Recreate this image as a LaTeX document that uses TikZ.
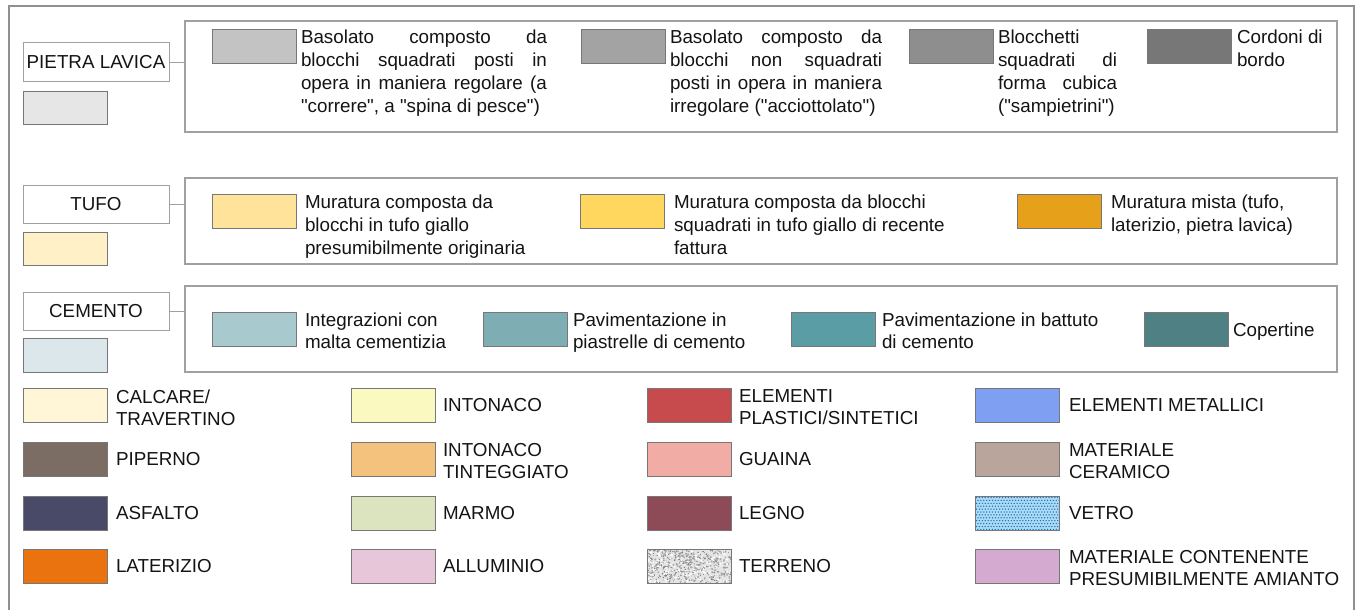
\documentclass[tikz,border=0pt]{standalone}
\usepackage{fontspec}
\setmainfont[Ligatures=TeXOff]{Liberation Sans}
\definecolor{swline}{HTML}{777777}
\definecolor{boxline}{HTML}{A0A0A0}
\definecolor{frameline}{HTML}{909090}
\definecolor{plsw}{HTML}{E6E6E6}
\definecolor{plA}{HTML}{C3C3C3}
\definecolor{plB}{HTML}{A3A3A3}
\definecolor{plC}{HTML}{8E8E8E}
\definecolor{plD}{HTML}{777777}
\definecolor{tusw}{HTML}{FFF0C8}
\definecolor{tuA}{HTML}{FFE39B}
\definecolor{tuB}{HTML}{FFD65E}
\definecolor{tuC}{HTML}{E6A019}
\definecolor{cesw}{HTML}{DCE7EB}
\definecolor{ceA}{HTML}{A8C9CE}
\definecolor{ceB}{HTML}{7EADB3}
\definecolor{ceC}{HTML}{5B9DA4}
\definecolor{ceD}{HTML}{4F8084}
\definecolor{calcare}{HTML}{FFF6D8}
\definecolor{piperno}{HTML}{7B6C64}
\definecolor{asfalto}{HTML}{484A68}
\definecolor{laterizio}{HTML}{EA730F}
\definecolor{intonaco}{HTML}{FAF9BF}
\definecolor{intint}{HTML}{F5C27D}
\definecolor{marmo}{HTML}{DCE3BF}
\definecolor{alluminio}{HTML}{E6C6D8}
\definecolor{plastici}{HTML}{C74A4D}
\definecolor{guaina}{HTML}{F1ACA5}
\definecolor{legno}{HTML}{8C4B56}
\definecolor{metallici}{HTML}{7F9FF3}
\definecolor{ceramico}{HTML}{BAA59C}
\definecolor{vetro}{HTML}{A8DDF7}
\definecolor{vetrodot}{HTML}{2A68B0}
\definecolor{amianto}{HTML}{D4AAD0}
\definecolor{terbg}{HTML}{E4E4E4}
\definecolor{txtc}{HTML}{141414}
\begin{document}
\begin{tikzpicture}[x=1pt,y=-1pt,
  every node/.style={inner sep=0pt, outer sep=0pt},
  txt/.style={font=\fontsize{18.8}{23}\selectfont, align=left, anchor=north west, text=txtc},
  gtxt/.style={font=\fontsize{18.8}{22}\selectfont, align=left, anchor=north west, text=txtc},
  gone/.style={font=\fontsize{18.8}{22}\selectfont, anchor=base west, text=txtc},
  sw/.style={draw=swline, line width=0.8pt, minimum width=84pt, minimum height=34pt, anchor=north west},
  lab/.style={draw=boxline, line width=1pt, minimum width=146pt, minimum height=39pt, anchor=north west, font=\fontsize{18.8}{23}\selectfont, text=txtc, fill=white},
  grp/.style={draw=boxline, line width=1.2pt, fill=white, anchor=north west, minimum width=1152pt},
  conn/.style={draw=boxline, line width=1pt}]
\useasboundingbox (0,0) rectangle (1363,610);
\fill[white] (0,0) rectangle (1363,610);
\draw[frameline, line width=1.5pt] (9,625) -- (9,6) -- (1354,6) -- (1354,625);

% ---------- PIETRA LAVICA ----------
\node[grp, minimum height=111pt] (pg) at (185,21) {};
\node[lab] (pl) at (23,43) {PIETRA LAVICA};
\node[sw, fill=plsw, minimum height=33pt] (plsw) at (23,91) {};
\draw[conn] (pl.east) -- (pl.east -| pg.west);
\node[sw, fill=plA] (p1) at (212,29) {};
\node[txt] (p1t) at (301,29.5) {\makebox[246pt][s]{Basolato composto da}\\\makebox[246pt][s]{blocchi squadrati posti in}\\\makebox[246pt][s]{opera in maniera regolare (a}\\"correre", a "spina di pesce")};
\node[sw, fill=plB] (p2) at (581,29) {};
\node[txt] (p2t) at (670,29.5) {\makebox[212pt][s]{Basolato composto da}\\\makebox[212pt][s]{blocchi non squadrati}\\\makebox[212pt][s]{posti in opera in maniera}\\irregolare ("acciottolato")};
\node[sw, fill=plC] (p3) at (909,29) {};
\node[txt] (p3t) at (998,29.5) {Blocchetti\\\makebox[119pt][s]{squadrati di}\\\makebox[119pt][s]{forma cubica}\\("sampietrini")};
\node[sw, fill=plD] (p4) at (1147,29) {};
\node[txt] (p4t) at (1237,29.5) {Cordoni di\\bordo};

% ---------- TUFO ----------
\node[grp, minimum height=86pt] (tg) at (185,178) {};
\node[lab, minimum height=38pt] (tl) at (23,185) {TUFO};
\node[sw, fill=tusw, minimum height=33pt] (tlsw) at (23,232) {};
\draw[conn] (tl.east) -- (tl.east -| tg.west);
\node[sw, fill=tuA] (t1) at (212,194) {};
\node[txt] (t1t) at (305,195) {Muratura composta da\\blocchi in tufo giallo\\presumibilmente originaria};
\node[sw, fill=tuB] (t2) at (580,194) {};
\node[txt] (t2t) at (674,195) {Muratura composta da blocchi\\squadrati in tufo giallo di recente\\fattura};
\node[sw, fill=tuC] (t3) at (1017,194) {};
\node[txt] (t3t) at (1111,195) {Muratura mista (tufo,\\laterizio, pietra lavica)};

% ---------- CEMENTO ----------
\node[grp, minimum height=86pt] (cg) at (185,286) {};
\node[lab, minimum height=38pt] (cl) at (23,292) {CEMENTO};
\node[sw, fill=cesw] (clsw) at (23,338) {};
\draw[conn] (cl.east) -- (cl.east -| cg.west);
\node[sw, fill=ceA] (c1) at (212,312) {};
\node[gtxt] (c1t) at (305,313) {Integrazioni con\\malta cementizia};
\node[sw, fill=ceB] (c2) at (483,312) {};
\node[gtxt] (c2t) at (573,313) {Pavimentazione in\\piastrelle di cemento};
\node[sw, fill=ceC] (c3) at (791,312) {};
\node[gtxt] (c3t) at (882,313) {Pavimentazione in battuto\\di cemento};
\node[sw, fill=ceD] (c4) at (1144,312) {};
\node[gone] (c4t) at (1233,336) {Copertine};

% ---------- GRID ----------
% column 1
\node[sw, fill=calcare] (g11) at (23,388) {};
\node[gtxt] (g11t) at (116,389.5) {CALCARE/\\TRAVERTINO};
\node[sw, fill=piperno] (g12) at (23,442) {};
\node[gone] (g12t) at (116,465.7) {PIPERNO};
\node[sw, fill=asfalto] (g13) at (23,496) {};
\node[gone] (g13t) at (116,519.7) {ASFALTO};
\node[sw, fill=laterizio] (g14) at (23,549) {};
\node[gone] (g14t) at (116,572.7) {LATERIZIO};
% column 2
\node[sw, fill=intonaco] (g21) at (351,388) {};
\node[gone] (g21t) at (443,411.7) {INTONACO};
\node[sw, fill=intint] (g22) at (351,442) {};
\node[gtxt] (g22t) at (443,443.5) {INTONACO\\TINTEGGIATO};
\node[sw, fill=marmo] (g23) at (351,496) {};
\node[gone] (g23t) at (443,519.7) {MARMO};
\node[sw, fill=alluminio] (g24) at (351,549) {};
\node[gone] (g24t) at (443,572.7) {ALLUMINIO};
% column 3
\node[sw, fill=plastici] (g31) at (647,388) {};
\node[gtxt] (g31t) at (739,389.5) {ELEMENTI\\PLASTICI/SINTETICI};
\node[sw, fill=guaina] (g32) at (647,442) {};
\node[gone] (g32t) at (739,465.7) {GUAINA};
\node[sw, fill=legno] (g33) at (647,496) {};
\node[gone] (g33t) at (739,519.7) {LEGNO};
\node[sw, fill=terbg] (g34) at (647,549) {};
\begin{scope}
  \clip (g34.north west) rectangle (g34.south east);
  \pgfmathsetseed{11}
  \foreach \i in {1,...,330} {
    \fill[black!50] ({647+84*rnd},{549+34*rnd}) circle[radius={0.4+0.6*rnd}];
  }
  \foreach \i in {1,...,200} {
    \fill[white] ({647+84*rnd},{549+34*rnd}) circle[radius={0.5+0.8*rnd}];
  }
  \foreach \i in {1,...,200} {
    \fill[black!35] ({647+84*rnd},{549+34*rnd}) circle[radius={0.5+0.7*rnd}];
  }
\end{scope}
\draw[swline, line width=0.8pt] (g34.north west) rectangle (g34.south east);
\node[gone] (g34t) at (739,572.7) {TERRENO};
% column 4
\node[sw, fill=metallici] (g41) at (975,388) {};
\node[gone] (g41t) at (1069,411.7) {ELEMENTI METALLICI};
\node[sw, fill=ceramico] (g42) at (975,442) {};
\node[gtxt] (g42t) at (1069,443.5) {MATERIALE\\CERAMICO};
\node[sw, fill=vetro] (g43) at (975,496) {};
\begin{scope}
  \clip (g43.north west) rectangle (g43.south east);
  \foreach \r in {0,...,11} {
    \foreach \c in {0,...,28} {
      \fill[vetrodot] ({976.5+\c*2.9+mod(\r,2)*1.45},{497.5+\r*2.9}) circle[radius=0.75];
    }
  }
\end{scope}
\draw[swline, line width=0.8pt] (g43.north west) rectangle (g43.south east);
\node[gone] (g43t) at (1069,519.7) {VETRO};
\node[sw, fill=amianto] (g44) at (975,549) {};
\node[gtxt] (g44t) at (1069,550.5) {MATERIALE CONTENENTE\\PRESUMIBILMENTE AMIANTO};
\end{tikzpicture}
\end{document}
